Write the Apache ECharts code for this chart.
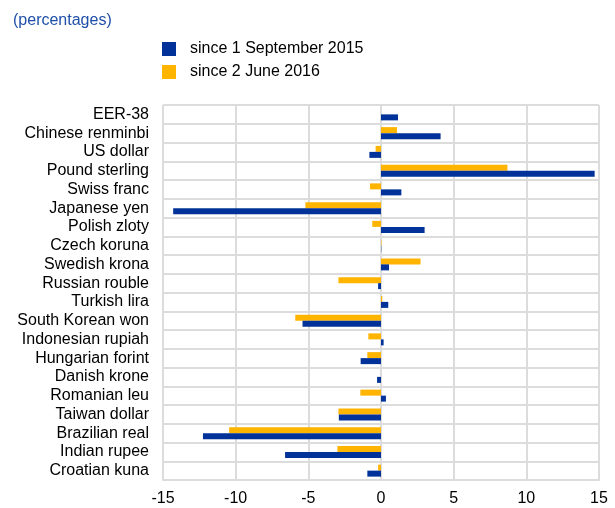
<!DOCTYPE html>
<html>
<head>
<meta charset="utf-8">
<script src="https://cdn.jsdelivr.net/npm/echarts@6/dist/echarts.min.js"></script>
<style>html,body{margin:0;padding:0;background:#fff}#c{width:615px;height:508px}</style>
</head>
<body>
<div id="c"></div>
<script>
const categories = ["EER-38","Chinese renminbi","US dollar","Pound sterling","Swiss franc","Japanese yen","Polish zloty","Czech koruna","Swedish krona","Russian rouble","Turkish lira","South Korean won","Indonesian rupiah","Hungarian forint","Danish krone","Romanian leu","Taiwan dollar","Brazilian real","Indian rupee","Croatian kuna"];
const sinceSep2015 = [1.17,4.1,-0.8,14.7,1.4,-14.3,3.0,0.02,0.55,-0.2,0.5,-5.4,0.18,-1.4,-0.27,0.34,-2.9,-12.25,-6.6,-0.94];
const sinceJun2016 = [0.0,1.1,-0.37,8.7,-0.76,-5.2,-0.6,0.03,2.72,-2.93,0.09,-5.9,-0.87,-0.94,0.0,-1.42,-2.93,-10.45,-3.0,-0.2];
const xTicks = [-15,-10,-5,0,5,10,15];
const seriesNames = ["since 1 September 2015","since 2 June 2016"];

const chart = echarts.init(document.getElementById('c'), null, {renderer:'canvas'});
const font = 'Liberation Sans, Arial, sans-serif';
chart.setOption({
  animation:false,
  title:{text:'(percentages)', left:8, top:8, textStyle:{color:'#1f4fa8', fontSize:16, fontWeight:'normal', fontFamily:font}},
  legend:{data:seriesNames, orient:'vertical', left:157, top:36, itemWidth:14, itemHeight:14, itemGap:7, icon:'rect',
    textStyle:{fontSize:16, color:'#000', fontFamily:font, padding:[0,0,0,9]}},
  grid:{left:163, right:16, top:105, bottom:28, containLabel:false},
  xAxis:{type:'value', min:xTicks[0], max:xTicks[xTicks.length-1], interval:5,
    axisLine:{show:true, lineStyle:{color:'#dcdcdc', width:2}},
    axisTick:{show:false},
    axisLabel:{fontSize:16, color:'#000', fontFamily:font, margin:11},
    splitLine:{show:true, lineStyle:{color:'#dcdcdc', width:2}}},
  yAxis:{type:'category', data:categories, inverse:true,
    axisLine:{show:false}, axisTick:{show:false, interval:0},
    axisLabel:{fontSize:16, color:'#000', fontFamily:font, margin:14, interval:0},
    splitLine:{show:true, interval:0, lineStyle:{color:'#dcdcdc', width:2}}},
  series:[
    {name:seriesNames[1], type:'bar', data:sinceJun2016, itemStyle:{color:'#ffb400'}, barWidth:6, barGap:'0%', barCategoryGap:'36%'},
    {name:seriesNames[0], type:'bar', data:sinceSep2015, itemStyle:{color:'#003299'}, barWidth:6, barGap:'0%', barCategoryGap:'36%'}
  ]
});
</script>
</body>
</html>
